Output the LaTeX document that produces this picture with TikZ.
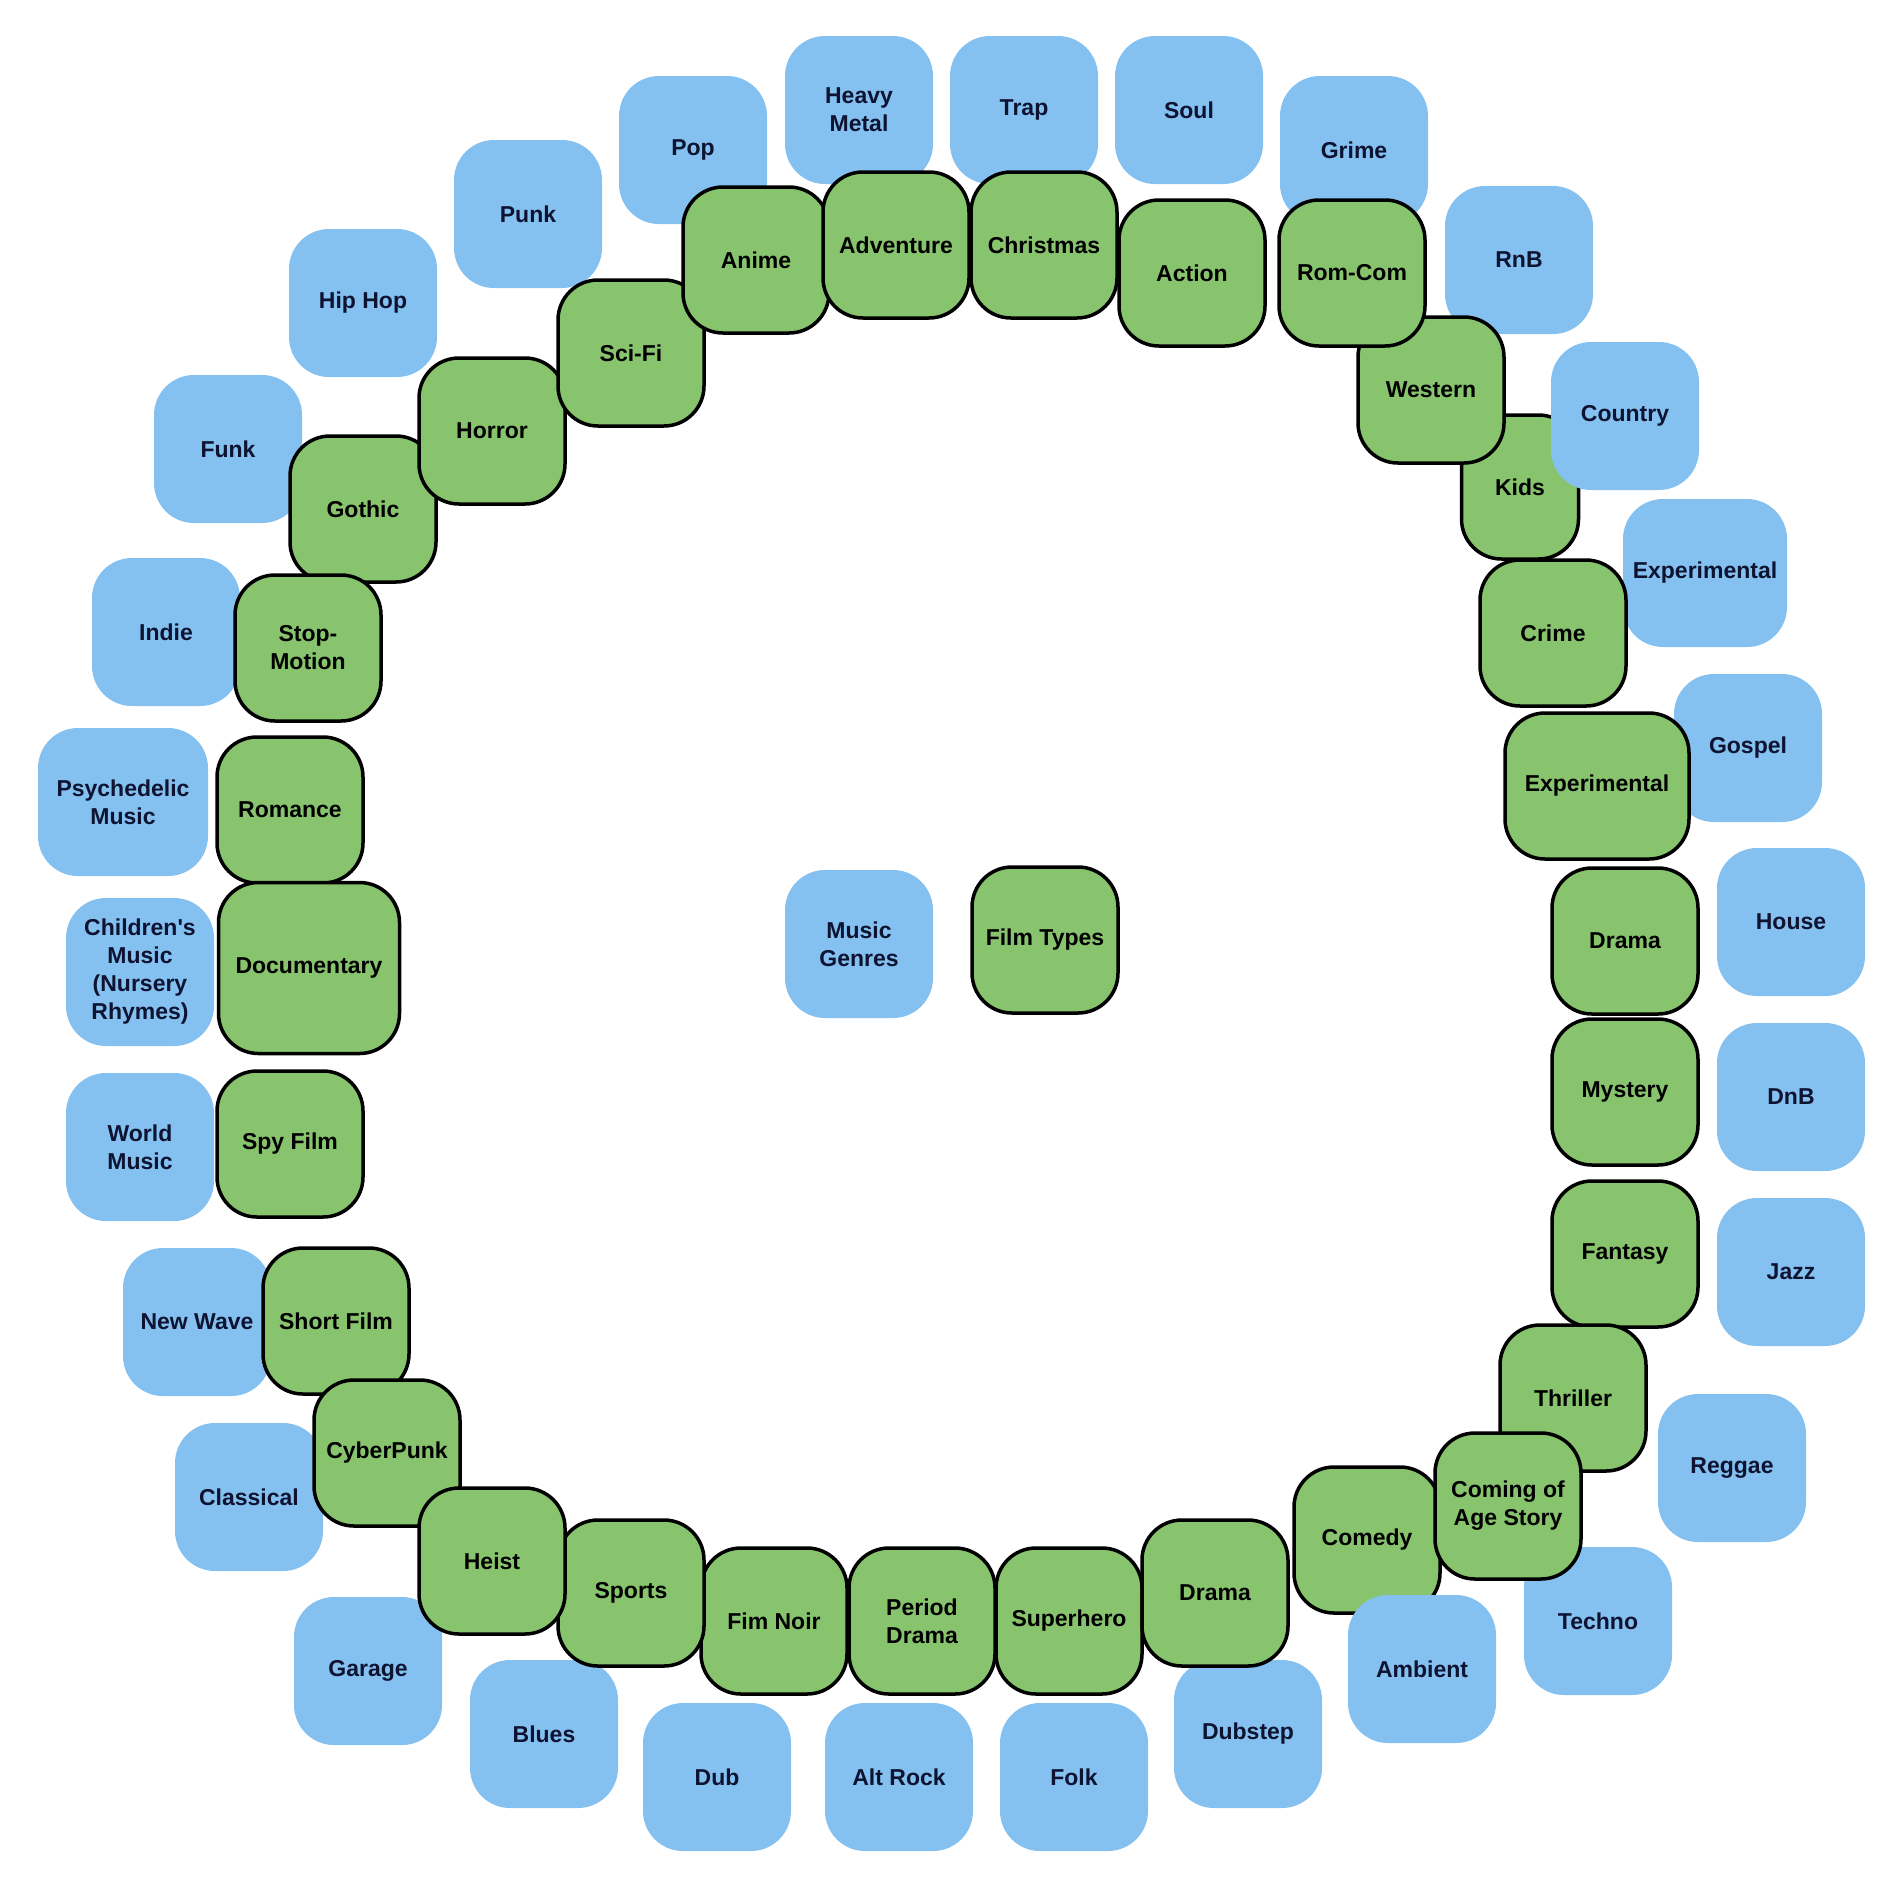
\documentclass[tikz,border=0pt]{standalone}
\usepackage{fontspec}
\setmainfont{Liberation Sans}
\usetikzlibrary{positioning}
\definecolor{musicblue}{HTML}{85C1F0}
\definecolor{filmgreen}{HTML}{88C46E}
\definecolor{inkblue}{HTML}{0D1330}
\tikzset{
    every node/.style={font=\fontsize{23}{28}\selectfont\bfseries},
    music/.style={rounded corners=40pt,fill=musicblue,text=inkblue,minimum width=148pt,minimum height=148pt,inner sep=0pt,align=center},
    film/.style={rounded corners=40pt,draw=black,line width=3.5pt,fill=filmgreen,text=black,minimum width=146pt,minimum height=146pt,inner sep=0pt,align=center}
}

\begin{document}
\begin{tikzpicture}[x=1pt,y=-1pt]
\useasboundingbox (0,0) rectangle (1903,1888);
% music genres (blue)
\foreach \x/\y/\w/\txt [count=\n] in {693/150/148/Pop,859/110/148/{Heavy\\Metal},1024/110/148/Trap,1189/110/148/Soul,1354/150/148/Grime,
    528/214/148/Punk,363/303/148/Hip Hop,1519/260/148/RnB,228/449/148/Funk,1705/573/164/Experimental,166/632/148/Indie,
    1748/748/148/Gospel,123/802/170/{Psychedelic\\Music},1791/922/148/House,140/972/148/{Children\textquotesingle s\\Music\\(Nursery\\Rhymes)},
    859/944/148/{Music\\Genres},1791/1097/148/DnB,140/1147/148/{World\\Music},1791/1272/148/Jazz,197/1322/148/New Wave,
    1732/1468/148/Reggae,249/1497/148/Classical,1598/1621/148/Techno,368/1671/148/Garage,544/1734/148/Blues,
    1248/1734/148/Dubstep,717/1777/148/Dub,899/1777/148/Alt Rock,1074/1777/148/Folk}{
    \node[music,minimum width=\w pt] (m\n) at (\x,\y) {\txt};
}
% film types (green)
\foreach \x/\y/\w/\h/\txt [count=\n] in {363/509/146/146/Gothic,492/431/146/146/Horror,631/353/146/146/Sci-Fi,756/260/146/146/Anime,
    896/245/146/146/Adventure,1044/245/146/146/Christmas,1192/273/146/146/Action,1520/487/117/144/Kids,1431/390/146/146/Western,
    1352/273/146/146/Rom-Com,1553/633/146/146/Crime,1597/786/184/146/Experimental,1625/941/146/146/Drama,1625/1092/146/146/Mystery,
    1625/1254/146/146/Fantasy,1573/1398/146/146/Thriller,774/1621/146/146/Fim Noir,922/1621/146/146/{Period\\Drama},
    1069/1621/146/146/Superhero,1215/1593/146/146/Drama,1367/1540/146/146/Comedy,1508/1506/146/146/{Coming of\\Age Story},
    631/1593/146/146/Sports,308/648/146/146/{Stop-\\Motion},290/810/146/146/Romance,309/968/181/171/Documentary,
    290/1144/146/146/Spy Film,336/1321/146/146/Short Film,387/1453/146/146/CyberPunk,492/1561/146/146/Heist,1045/940/146/146/Film Types}{
    \node[film,minimum width=\w pt,minimum height=\h pt] (f\n) at (\x,\y) {\txt};
}
\node[music] (country) at (1625,416) {Country};
\node[music] (ambient) at (1422,1669) {Ambient};
\end{tikzpicture}
\end{document}
